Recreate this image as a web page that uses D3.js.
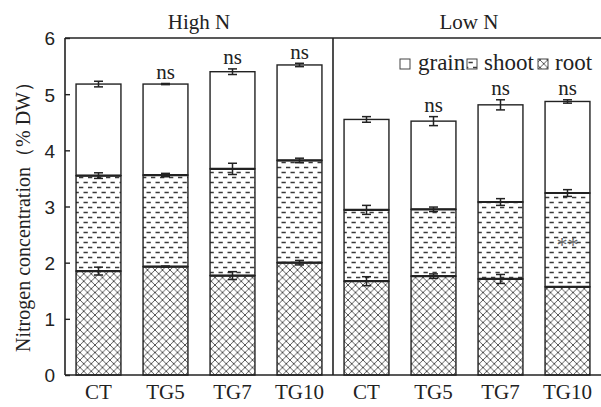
<!DOCTYPE html>
<html>
<head>
<meta charset="utf-8">
<script src="https://cdn.jsdelivr.net/npm/d3@7/dist/d3.min.js"></script>
<style>
  html, body { margin: 0; padding: 0; background: #fff; }
  svg { display: block; }
  .serif { font-family: "Liberation Serif", "Times New Roman", Times, "DejaVu Serif", serif; }
  .sans { font-family: "Liberation Sans", Arial, Helvetica, sans-serif; }
</style>
</head>
<body>
<svg id="chart" width="601" height="407"></svg>
<script>
// Nitrogen concentration of grain, shoot and root under two N regimes
const groups = ["High N", "Low N"];
const categories = ["CT", "TG5", "TG7", "TG10"];
const parts = ["root", "shoot", "grain"];

// component values (% DW), stacked root -> shoot -> grain
const rootHigh = [1.85, 1.93, 1.77, 2.00];
const shootHigh = [1.70, 1.63, 1.90, 1.82];
const grainHigh = [1.63, 1.62, 1.73, 1.70];
const rootLow = [1.67, 1.76, 1.71, 1.57];
const shootLow = [1.27, 1.19, 1.37, 1.67];
const grainLow = [1.61, 1.57, 1.73, 1.63];

// error bars at the top of each stacked segment
const rootErrHigh = [0.07, 0.01, 0.07, 0.04];
const shootErrHigh = [0.05, 0.03, 0.10, 0.04];
const grainErrHigh = [0.05, 0.01, 0.05, 0.03];
const rootErrLow = [0.08, 0.04, 0.08, 0.00];
const shootErrLow = [0.08, 0.04, 0.06, 0.06];
const grainErrLow = [0.05, 0.08, 0.09, 0.03];

// significance marks
const sigHigh = ["", "ns", "ns", "ns"];
const sigLow = ["", "ns", "ns", "ns"];
const shootSigLow = ["", "", "", "**"];

const yTicks = [0, 1, 2, 3, 4, 5, 6];
const yTitle = "Nitrogen concentration（% DW）";

const series = {
  "High N": { root: rootHigh, shoot: shootHigh, grain: grainHigh,
              err: { root: rootErrHigh, shoot: shootErrHigh, grain: grainErrHigh },
              sig: sigHigh, inner: ["", "", "", ""] },
  "Low N":  { root: rootLow, shoot: shootLow, grain: grainLow,
              err: { root: rootErrLow, shoot: shootErrLow, grain: grainErrLow },
              sig: sigLow, inner: shootSigLow }
};

const plotLeft = 65, plotRight = 601, plotTop = 38, plotBottom = 375;
const ink = "#222";

const svg = d3.select("#chart");

// hatch patterns
const defs = svg.append("defs");
const pShoot = defs.append("pattern").attr("id", "pat-shoot")
  .attr("patternUnits", "userSpaceOnUse").attr("width", 9).attr("height", 10);
pShoot.append("rect").attr("width", 9).attr("height", 10).attr("fill", "#fff");
pShoot.append("path").attr("d", "M0.5,2.5H4.8M5,7.5H9.3M-4,7.5H0.3")
  .attr("stroke", "#3a3a3a").attr("stroke-width", 1.3);

const pRoot = defs.append("pattern").attr("id", "pat-root")
  .attr("patternUnits", "userSpaceOnUse").attr("width", 7.5).attr("height", 7.5);
pRoot.append("rect").attr("width", 7.5).attr("height", 7.5).attr("fill", "#fff");
pRoot.append("path").attr("d", "M-1,-1L8.5,8.5M8.5,-1L-1,8.5")
  .attr("stroke", "#444").attr("stroke-width", 0.9);

const fills = { grain: "#fff", shoot: "url(#pat-shoot)", root: "url(#pat-root)" };

// scales
const y = d3.scaleLinear().domain([0, 6]).range([plotBottom, plotTop]);
const xPanel = d3.scaleBand().domain(groups).range([plotLeft, plotRight]);
const xCat = d3.scaleBand().domain(categories).range([0, xPanel.bandwidth()])
  .paddingInner(0.33).paddingOuter(0.165);

const stack = d3.stack().keys(parts);

groups.forEach(g => {
  const s = series[g];
  const rows = categories.map((c, i) => ({ cat: c, root: s.root[i], shoot: s.shoot[i], grain: s.grain[i], i }));
  const stacked = stack(rows);
  const gp = svg.append("g").attr("transform", `translate(${xPanel(g)},0)`);

  // stacked segments
  stacked.forEach(layer => {
    const key = layer.key;
    gp.selectAll(null).data(layer).enter().append("rect")
      .attr("x", d => xCat(d.data.cat))
      .attr("width", xCat.bandwidth())
      .attr("y", d => y(d[1]))
      .attr("height", d => y(d[0]) - y(d[1]))
      .attr("fill", fills[key])
      .attr("stroke", ink).attr("stroke-width", 1.4);
  });

  // thicker boundary lines at segment tops
  stacked.slice(0, 2).forEach(layer => {
    gp.selectAll(null).data(layer).enter().append("line")
      .attr("x1", d => xCat(d.data.cat)).attr("x2", d => xCat(d.data.cat) + xCat.bandwidth())
      .attr("y1", d => y(d[1])).attr("y2", d => y(d[1]))
      .attr("stroke", ink).attr("stroke-width", 2.2);
  });

  // error bars
  stacked.forEach(layer => {
    const errs = s.err[layer.key];
    layer.forEach((d, i) => {
      const e = errs[i];
      if (!e) return;
      const cx = xCat(d.data.cat) + xCat.bandwidth() / 2;
      const y0 = y(d[1] - e), y1 = y(d[1] + e);
      const eg = gp.append("g").attr("stroke", ink).attr("stroke-width", 1.5);
      eg.append("line").attr("x1", cx).attr("x2", cx).attr("y1", y0).attr("y2", y1);
      eg.append("line").attr("x1", cx - 4.5).attr("x2", cx + 4.5).attr("y1", y0).attr("y2", y0);
      eg.append("line").attr("x1", cx - 4.5).attr("x2", cx + 4.5).attr("y1", y1).attr("y2", y1);
    });
  });

  // significance above bars
  const topLayer = stacked[2];
  topLayer.forEach((d, i) => {
    if (!s.sig[i]) return;
    const cx = xCat(d.data.cat) + xCat.bandwidth() / 2;
    gp.append("text").attr("class", "serif").attr("x", cx).attr("y", y(d[1] + s.err.grain[i]) - 4.5)
      .attr("text-anchor", "middle").style("font-size", "21px")
      .attr("fill", ink).text(s.sig[i]);
  });

  // significance inside the shoot segment
  const shootLayer = stacked[1];
  shootLayer.forEach((d, i) => {
    if (!s.inner[i]) return;
    const cx = xCat(d.data.cat) + xCat.bandwidth() / 2;
    gp.append("text").attr("class", "serif").attr("x", cx).attr("y", y((d[0] + d[1]) / 2) + 12)
      .attr("text-anchor", "middle").style("font-size", "22px")
      .attr("fill", "#666").text(s.inner[i]);
  });

  // category labels
  categories.forEach(c => {
    gp.append("text").attr("class", "serif").attr("x", xCat(c) + xCat.bandwidth() / 2).attr("y", 399)
      .attr("text-anchor", "middle").style("font-size", "21px")
      .attr("fill", ink).text(c);
  });

  // panel title
  svg.append("text").attr("class", "serif")
    .attr("x", xPanel(g) + xPanel.bandwidth() / 2 + (g === "High N" ? 0 : 2)).attr("y", 29)
    .attr("text-anchor", "middle").style("font-size", "21px")
    .attr("fill", ink).text(g);
});

// frame: left axis, top line, panel divider, baseline
const frame = svg.append("g").attr("stroke", ink).attr("stroke-width", 1.6).attr("fill", "none");
frame.append("line").attr("x1", plotLeft).attr("x2", plotLeft).attr("y1", plotTop).attr("y2", plotBottom);
frame.append("line").attr("x1", plotLeft).attr("x2", plotRight).attr("y1", plotTop).attr("y2", plotTop);
frame.append("line").attr("x1", plotLeft).attr("x2", plotRight).attr("y1", plotBottom).attr("y2", plotBottom);
frame.append("line").attr("x1", xPanel("Low N")).attr("x2", xPanel("Low N")).attr("y1", plotTop).attr("y2", plotBottom);

// y axis (ticks drawn inward)
const yAxis = d3.axisLeft(y).tickValues(yTicks).tickFormat(d3.format("d")).tickSize(-5).tickPadding(10);
const ya = svg.append("g").attr("transform", `translate(${plotLeft},0)`).call(yAxis);
ya.attr("font-family", null).attr("font-size", null);
ya.select(".domain").remove();
ya.selectAll(".tick line").attr("stroke", ink).attr("stroke-width", 1.4);
ya.selectAll(".tick text").attr("class", "sans").style("font-size", "19px").attr("fill", ink)
  .attr("dy", "0.36em");

// y title
svg.append("text").attr("class", "serif").attr("transform", "translate(30,212) rotate(-90)")
  .attr("text-anchor", "middle").style("font-size", "20px")
  .attr("fill", ink).text(yTitle);

// legend
const legendItems = [
  { key: "grain", x: 400, tx: 418 },
  { key: "shoot", x: 467, tx: 484 },
  { key: "root", x: 538, tx: 555 }
];
const lg = svg.append("g");
legendItems.forEach(it => {
  lg.append("rect").attr("x", it.x).attr("y", 59).attr("width", 10).attr("height", 10)
    .attr("fill", fills[it.key]).attr("stroke", "#444").attr("stroke-width", 1);
  lg.append("text").attr("class", "serif").attr("x", it.tx).attr("y", 70)
    .style("font-size", "23px").attr("fill", ink).text(it.key);
});
</script>
</body>
</html>
